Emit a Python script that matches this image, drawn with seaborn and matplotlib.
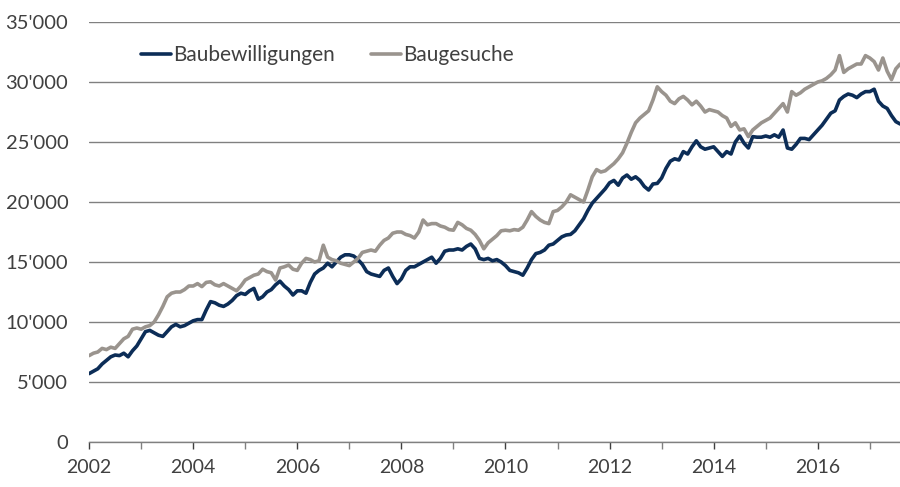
import matplotlib.pyplot as plt
import matplotlib.ticker as mticker
import numpy as np
import pandas as pd
import seaborn as sns

palette = {"blue": "#0c2d57", "grey": "#9a948e", "grid": "#808080",
           "text": "#404040"}

# Monthly values in thousands, Jan 2002 - Aug 2017
baubewilligungen = [
    5.7, 5.9, 6.1, 6.5, 6.8, 7.1, 7.25, 7.2, 7.4, 7.1, 7.6, 8.0,
    8.6, 9.2, 9.3, 9.1, 8.9, 8.8, 9.2, 9.6, 9.8, 9.6, 9.7, 9.9,
    10.1, 10.2, 10.2, 11.0, 11.7, 11.6, 11.4, 11.3, 11.5, 11.8, 12.2, 12.4,
    12.3, 12.6, 12.8, 11.9, 12.1, 12.5, 12.7, 13.1, 13.4, 13.0, 12.7, 12.25,
    12.6, 12.6, 12.4, 13.3, 14.0, 14.3, 14.5, 14.9, 14.6, 15.0, 15.4, 15.6,
    15.6, 15.5, 15.2, 14.8, 14.2, 14.0, 13.9, 13.8, 14.3, 14.5, 13.8, 13.2,
    13.6, 14.3, 14.6, 14.6, 14.8, 15.0, 15.2, 15.4, 14.9, 15.3, 15.9, 16.0,
    16.0, 16.1, 16.0, 16.3, 16.5, 16.1, 15.3, 15.2, 15.3, 15.1, 15.2, 15.0,
    14.7, 14.3, 14.2, 14.1, 13.9, 14.5, 15.2, 15.7, 15.8, 16.0, 16.4, 16.5,
    16.8, 17.1, 17.25, 17.3, 17.6, 18.1, 18.6, 19.3, 19.9, 20.3, 20.7, 21.1,
    21.6, 21.8, 21.4, 22.0, 22.25, 21.9, 22.1, 21.8, 21.3, 21.0, 21.5, 21.55,
    22.0, 22.8, 23.4, 23.6, 23.5, 24.2, 24.0, 24.6, 25.1, 24.6, 24.4, 24.5,
    24.6, 24.2, 23.8, 24.2, 24.0, 25.0, 25.5, 24.9, 24.5, 25.45, 25.4, 25.4,
    25.5, 25.4, 25.6, 25.4, 26.0, 24.5, 24.4, 24.8, 25.3, 25.3, 25.2, 25.6,
    26.0, 26.4, 26.9, 27.4, 27.6, 28.5, 28.8, 29.0, 28.9, 28.7, 29.0, 29.2,
    29.2, 29.4, 28.4, 28.0, 27.8, 27.2, 26.7, 26.5,
]
baugesuche = [
    7.2, 7.4, 7.5, 7.8, 7.7, 7.9, 7.8, 8.2, 8.6, 8.8, 9.4, 9.5,
    9.4, 9.6, 9.7, 10.0, 10.6, 11.3, 12.1, 12.4, 12.5, 12.5, 12.7, 13.0,
    13.0, 13.2, 12.95, 13.3, 13.35, 13.1, 13.0, 13.2, 13.0, 12.8, 12.6, 13.0,
    13.5, 13.7, 13.9, 14.0, 14.4, 14.2, 14.1, 13.5, 14.5, 14.6, 14.75, 14.4,
    14.3, 14.9, 15.3, 15.2, 15.0, 15.1, 16.4, 15.4, 15.2, 15.1, 14.9, 14.8,
    14.7, 15.0, 15.3, 15.8, 15.9, 16.0, 15.9, 16.4, 16.8, 17.0, 17.4, 17.5,
    17.5, 17.3, 17.2, 17.0, 17.5, 18.5, 18.1, 18.2, 18.2, 18.0, 17.9, 17.7,
    17.65, 18.3, 18.1, 17.8, 17.65, 17.3, 16.8, 16.1, 16.6, 16.9, 17.2, 17.6,
    17.65, 17.6, 17.7, 17.65, 17.9, 18.5, 19.2, 18.8, 18.5, 18.3, 18.2, 19.2,
    19.3, 19.6, 20.0, 20.6, 20.4, 20.2, 20.0, 21.0, 22.1, 22.7, 22.5, 22.6,
    22.9, 23.2, 23.6, 24.1, 24.9, 25.8, 26.6, 27.0, 27.3, 27.6, 28.5, 29.6,
    29.2, 28.9, 28.4, 28.2, 28.6, 28.8, 28.5, 28.1, 28.4, 28.0, 27.5, 27.7,
    27.6, 27.5, 27.2, 27.0, 26.3, 26.6, 26.0, 26.1, 25.45, 26.0, 26.3, 26.6,
    26.8, 27.0, 27.4, 27.8, 28.2, 27.5, 29.2, 28.9, 29.1, 29.4, 29.6, 29.8,
    30.0, 30.1, 30.3, 30.6, 31.0, 32.2, 30.8, 31.1, 31.3, 31.5, 31.5, 32.2,
    32.0, 31.7, 31.0, 32.0, 30.9, 30.2, 31.1, 31.5,
]

years = 2002 + np.arange(len(baubewilligungen)) / 12

df = pd.DataFrame({
    "Jahr": np.concatenate([years, years]),
    "Wert": np.array(baubewilligungen + baugesuche) * 1000,
    "Serie": ["Baubewilligungen"] * len(years) + ["Baugesuche"] * len(years),
})

sns.set_style("white")
plt.rcParams["font.family"] = ["Lato", "DejaVu Sans"]

fig = plt.figure(figsize=(9, 4.87), dpi=100)
ax = fig.add_axes([0.099, 0.0924, 0.901, 0.8624])

sns.lineplot(data=df, x="Jahr", y="Wert", hue="Serie",
             palette={"Baubewilligungen": palette["blue"],
                      "Baugesuche": palette["grey"]},
             linewidth=2.6, ax=ax, zorder=3)

ax.set_xlim(2002, 2017.58)
ax.set_ylim(0, 35000)
ax.set_yticks(range(0, 35001, 5000))
ax.yaxis.set_major_formatter(
    mticker.FuncFormatter(lambda v, p: f"{int(v):,}".replace(",", "'")))
ax.set_xticks(range(2002, 2018, 2))
ax.set_xticks(range(2003, 2018, 2), minor=True)

ax.grid(axis="y", color=palette["grid"], linewidth=1.0, zorder=0)
ax.grid(axis="x", visible=False)
for side in ["top", "right", "left"]:
    ax.spines[side].set_visible(False)
ax.spines["bottom"].set_color(palette["grid"])
ax.spines["bottom"].set_linewidth(1.0)

ax.tick_params(axis="y", left=False, length=0, labelsize=14.5,
               colors=palette["text"], pad=15)
ax.tick_params(axis="x", which="both", bottom=True, direction="out",
               length=5, width=1, color=palette["grid"])
ax.tick_params(axis="x", labelsize=14, colors=palette["text"], pad=7)
ax.set_xlabel("")
ax.set_ylabel("")

ax.legend(loc="upper left", bbox_to_anchor=(0.041, 0.99), ncol=2,
          frameon=False, fontsize=15, handlelength=1.45, handletextpad=0.1,
          columnspacing=1.7, labelcolor=palette["text"])

fig.savefig("out.png", dpi=100)
